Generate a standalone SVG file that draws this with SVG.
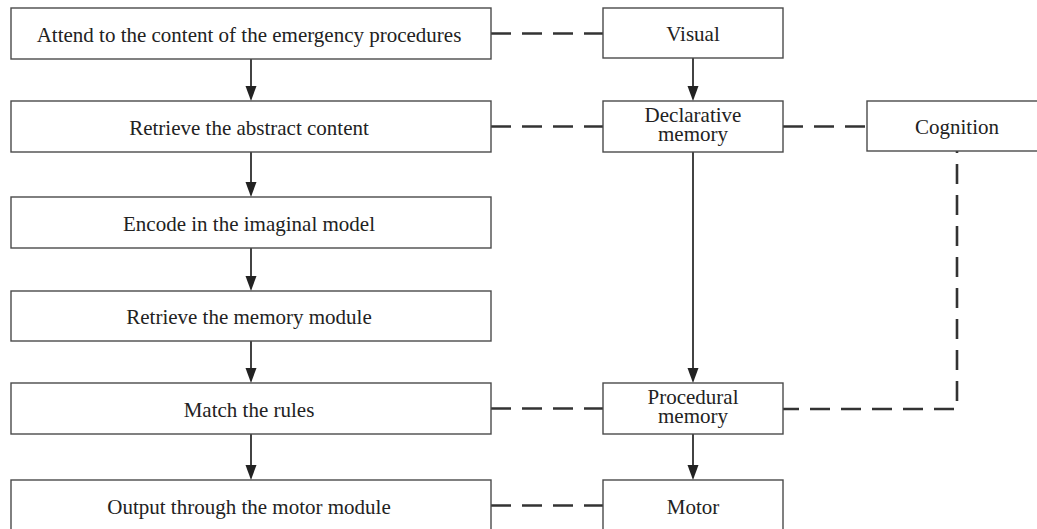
<svg xmlns="http://www.w3.org/2000/svg" width="1037" height="529" viewBox="0 0 1037 529">
<style>
.box{fill:#fff;stroke:#4a4a4a;stroke-width:1.4}
.t{font-family:"Liberation Serif","Times New Roman",serif;font-size:21px;fill:#222;text-anchor:middle}
.arr{stroke:#222;stroke-width:1.7;fill:none}
.dash{stroke:#333;stroke-width:2.6;fill:none;stroke-dasharray:20 11}
</style>
<defs>
<marker id="ah" markerUnits="userSpaceOnUse" markerWidth="12" markerHeight="16" viewBox="0 0 12 16" refX="6" refY="15" orient="auto-start-reverse">
<path d="M0,0 L12,0 L6,15 Z" fill="#222" transform="rotate(0)"/>
</marker>
</defs>
<rect width="1037" height="529" fill="#fff"/>
<g id="connectors">
<!-- left column -->
<path class="arr" d="M251,59 V87" /><path d="M245.5,86 h11 l-5.5,15 z" fill="#222"/>
<path class="arr" d="M251,152 V183" /><path d="M245.5,182 h11 l-5.5,15 z" fill="#222"/>
<path class="arr" d="M251,248 V277" /><path d="M245.5,276 h11 l-5.5,15 z" fill="#222"/>
<path class="arr" d="M251,341 V369" /><path d="M245.5,368 h11 l-5.5,15 z" fill="#222"/>
<path class="arr" d="M251,434 V466" /><path d="M245.5,465 h11 l-5.5,15 z" fill="#222"/>
<!-- middle column -->
<path class="arr" d="M693,58 V87" /><path d="M687.5,86 h11 l-5.5,15 z" fill="#222"/>
<path class="arr" d="M693,152 V369" /><path d="M687.5,368 h11 l-5.5,15 z" fill="#222"/>
<path class="arr" d="M693,434 V466" /><path d="M687.5,465 h11 l-5.5,15 z" fill="#222"/>
<!-- dashed -->
<path class="dash" d="M491,33.5 H603"/>
<path class="dash" d="M491,126.5 H603"/>
<path class="dash" d="M491,408.5 H603"/>
<path class="dash" d="M491,505.5 H603"/>
<path class="dash" d="M783,126.5 H867"/>
<path class="dash" d="M783,409 H957 V151" style="stroke-dashoffset:4"/>
</g>
<g id="n1"><rect class="box" x="11" y="8" width="480" height="51"/><text class="t" x="249" y="41.5">Attend to the content of the emergency procedures</text></g>
<g id="n2"><rect class="box" x="11" y="101" width="480" height="51"/><text class="t" x="249" y="134.5">Retrieve the abstract content</text></g>
<g id="n3"><rect class="box" x="11" y="197" width="480" height="51"/><text class="t" x="249" y="230.5">Encode in the imaginal model</text></g>
<g id="n4"><rect class="box" x="11" y="291" width="480" height="50"/><text class="t" x="249" y="324">Retrieve the memory module</text></g>
<g id="n5"><rect class="box" x="11" y="383" width="480" height="51"/><text class="t" x="249" y="416.5">Match the rules</text></g>
<g id="n6"><rect class="box" x="11" y="480" width="480" height="51"/><text class="t" x="249" y="513.5">Output through the motor module</text></g>
<g id="visual"><rect class="box" x="603" y="8" width="180" height="50"/><text class="t" x="693" y="41">Visual</text></g>
<g id="declarative"><rect class="box" x="603" y="101" width="180" height="51"/><text class="t" x="693" y="121.5">Declarative</text><text class="t" x="693" y="141">memory</text></g>
<g id="cognition"><rect class="box" x="867" y="101" width="180" height="50"/><text class="t" x="957" y="134">Cognition</text></g>
<g id="procedural"><rect class="box" x="603" y="383" width="180" height="51"/><text class="t" x="693" y="403.5">Procedural</text><text class="t" x="693" y="423">memory</text></g>
<g id="motor"><rect class="box" x="603" y="480" width="180" height="51"/><text class="t" x="693" y="513.5">Motor</text></g>
</svg>
